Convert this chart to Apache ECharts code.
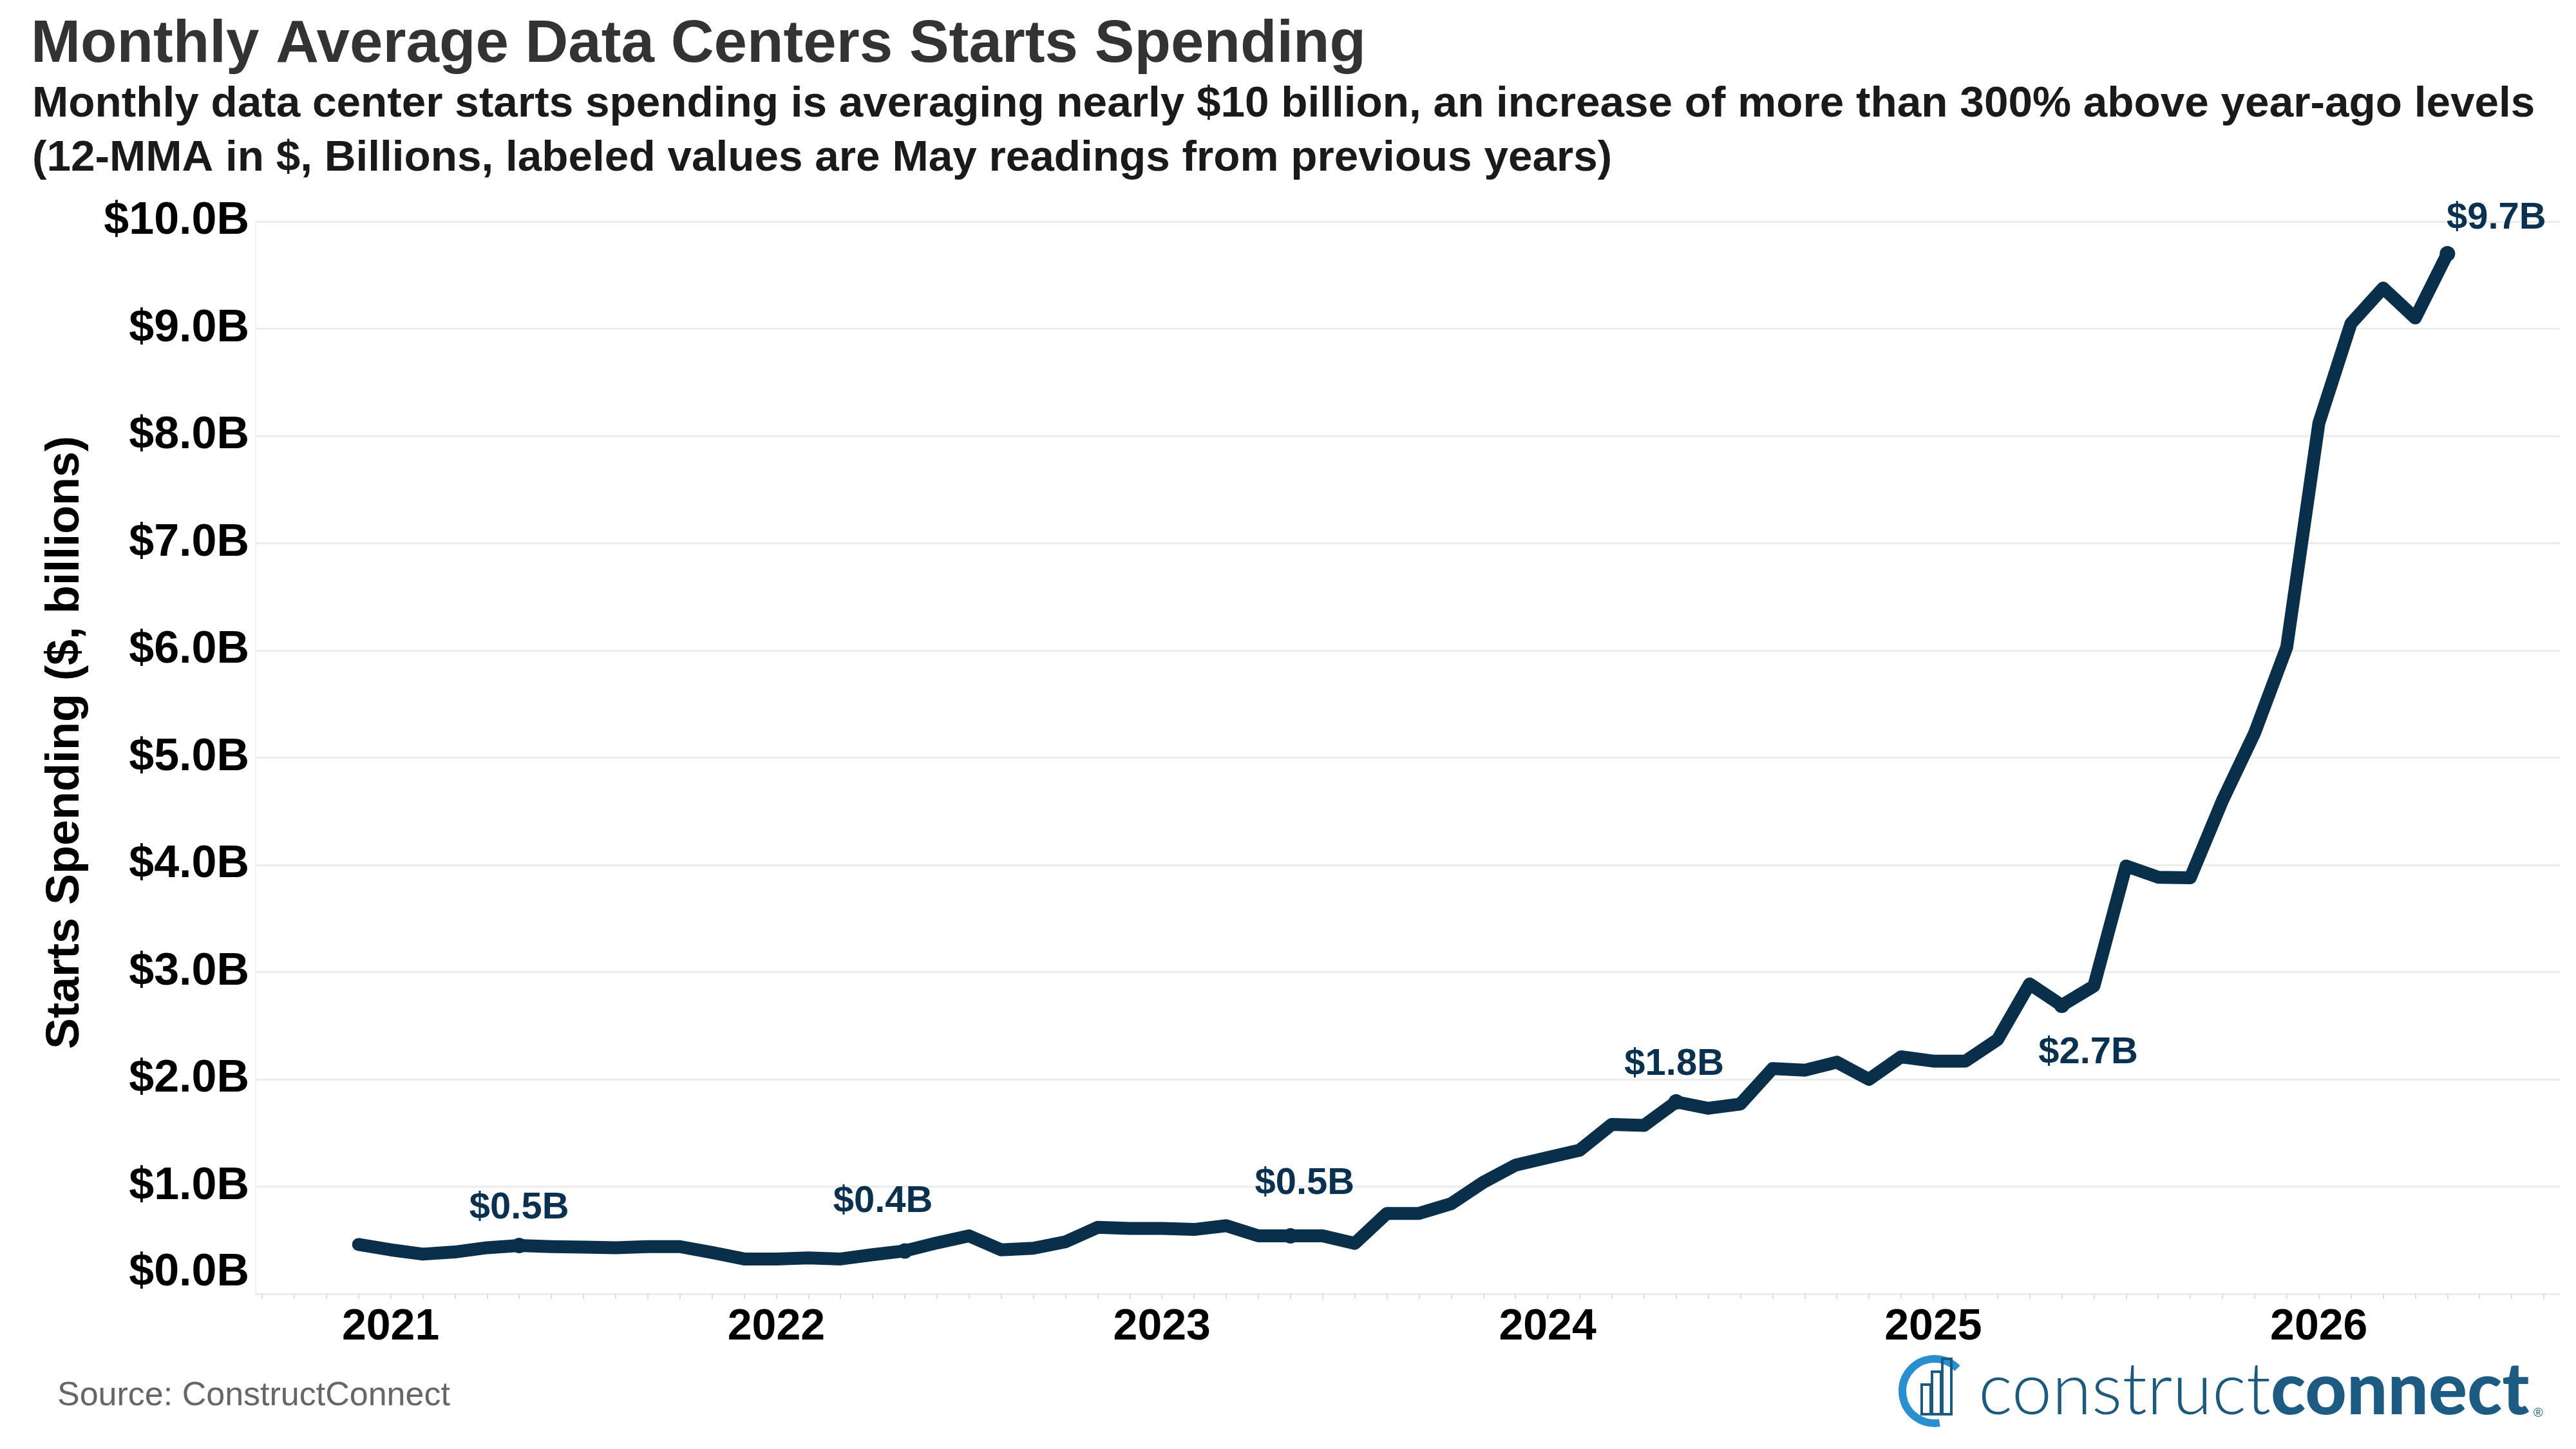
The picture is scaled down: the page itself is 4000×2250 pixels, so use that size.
<!DOCTYPE html>
<html>
<head>
<meta charset="utf-8">
<title>Monthly Average Data Centers Starts Spending</title>
<script src="https://cdn.jsdelivr.net/npm/echarts@6/dist/echarts.min.js"></script>
<style>
  html, body { margin: 0; padding: 0; background: #fff; }
  #chart { width: 4000px; height: 2250px; }
</style>
</head>
<body>
<div id="chart"></div>
<script>
// 12-month moving average of data center starts, $ billions
const months = [
  '2020-12',
  '2021-01', '2021-02', '2021-03', '2021-04', '2021-05', '2021-06', '2021-07', '2021-08', '2021-09', '2021-10', '2021-11', '2021-12',
  '2022-01', '2022-02', '2022-03', '2022-04', '2022-05', '2022-06', '2022-07', '2022-08', '2022-09', '2022-10', '2022-11', '2022-12',
  '2023-01', '2023-02', '2023-03', '2023-04', '2023-05', '2023-06', '2023-07', '2023-08', '2023-09', '2023-10', '2023-11', '2023-12',
  '2024-01', '2024-02', '2024-03', '2024-04', '2024-05', '2024-06', '2024-07', '2024-08', '2024-09', '2024-10', '2024-11', '2024-12',
  '2025-01', '2025-02', '2025-03', '2025-04', '2025-05', '2025-06', '2025-07', '2025-08', '2025-09', '2025-10', '2025-11', '2025-12',
  '2026-01', '2026-02', '2026-03', '2026-04', '2026-05'
]
const spending = [
  0.46,
  0.41, 0.37, 0.39, 0.43, 0.45, 0.44, 0.435, 0.43, 0.44, 0.44, 0.385, 0.325,
  0.325, 0.335, 0.325, 0.365, 0.40, 0.475, 0.54, 0.41, 0.425, 0.485, 0.62, 0.61,
  0.61, 0.60, 0.635, 0.54, 0.54, 0.54, 0.47, 0.75, 0.75, 0.84, 1.04, 1.20,
  1.27, 1.34, 1.58, 1.57, 1.79, 1.73, 1.77, 2.10, 2.085, 2.16, 2.00, 2.21,
  2.17, 2.17, 2.37, 2.89, 2.69, 2.87, 3.99, 3.885, 3.88, 4.60, 5.23, 6.03,
  8.12, 9.05, 9.38, 9.10, 9.70
]
const yearLabels = ['2021', '2022', '2023', '2024', '2025', '2026']
const yTicks = [0, 1, 2, 3, 4, 5, 6, 7, 8, 9, 10]
const calloutMonths = ['2021-05', '2022-05', '2023-05', '2024-05', '2025-05', '2026-05']
const calloutLabels = ['$0.5B', '$0.4B', '$0.5B', '$1.8B', '$2.7B', '$9.7B']

// label nudges (px) relative to each callout point
const calloutOffsets = [[0, -58], [-34, -76], [22, -81], [-3, -58], [41, 74], [76, -55]]

const NAVY = '#0a2f4a'
const FONT = '"Liberation Sans", Arial, sans-serif'

// month index counted from Jan 2021
const monthIndex = (ym) => {
  const [y, m] = ym.split('-').map(Number)
  return (y - 2021) * 12 + (m - 1)
}

const lineData = months.map((m, i) => [monthIndex(m), spending[i]])
const calloutData = calloutMonths.map((m, i) => ({
  value: [monthIndex(m), spending[months.indexOf(m)]],
  label: { formatter: calloutLabels[i], offset: calloutOffsets[i] }
}))
// year labels sit just under the x baseline (value 0) at each January
const yearData = yearLabels.map((y) => ({
  value: [monthIndex(y + '-01'), yTicks[0]],
  label: { formatter: y, offset: [0, 52] }
}))
const monthTicks = []
for (let v = -4; v <= 67; v++) monthTicks.push(v)

const chart = echarts.init(document.getElementById('chart'), null, { renderer: 'canvas' })

chart.setOption({
  backgroundColor: '#ffffff',
  animation: false,
  textStyle: { fontFamily: FONT },
  title: [
    {
      text: 'Monthly Average Data Centers Starts Spending',
      left: 48, top: 24, padding: 0,
      textStyle: { fontSize: 92.5, fontWeight: 'bold', color: '#333333', fontFamily: FONT }
    },
    {
      text: 'Monthly data center starts spending is averaging nearly $10 billion, an increase of more than 300% above year-ago levels\n(12-MMA in $, Billions, labeled values are May readings from previous years)',
      left: 50, top: 120, padding: 0,
      textStyle: { fontSize: 67.5, fontWeight: 'bold', color: '#1a1a1a', lineHeight: 84, fontFamily: FONT }
    }
  ],
  grid: { left: 397, right: 25, top: 344, bottom: 241, outerBoundsMode: 'none' },
  xAxis: {
    type: 'value',
    min: -4.2,
    max: 67.5,
    axisLine: { show: false },
    splitLine: { show: false },
    axisLabel: { show: false },
    axisTick: { show: true, customValues: monthTicks, length: 8, lineStyle: { color: '#dedede', width: 2 } }
  },
  yAxis: {
    type: 'value',
    min: yTicks[0],
    max: yTicks[yTicks.length - 1],
    interval: 1,
    axisLine: { show: true, onZero: false, lineStyle: { color: '#f2f2f2', width: 2 } },
    axisTick: { show: false },
    splitLine: { lineStyle: { color: '#ececec', width: 3 } },
    axisLabel: {
      fontSize: 70, fontWeight: 'bold', color: '#000', margin: 10, fontFamily: FONT,
      formatter: (v) => (v === 0 ? '{z|$0.0B}' : '$' + v.toFixed(1) + 'B'),
      rich: { z: { padding: [0, 0, 64, 0], fontSize: 70, fontWeight: 'bold', color: '#000', fontFamily: FONT } }
    }
  },
  series: [
    {
      type: 'line',
      data: lineData,
      symbol: 'none',
      color: NAVY,
      lineStyle: { width: 20, color: NAVY, cap: 'round', join: 'round' },
      z: 3
    },
    {
      type: 'scatter',
      data: calloutData,
      symbol: 'circle',
      symbolSize: 24,
      itemStyle: { color: NAVY, opacity: 1 },
      label: {
        show: true,
        position: 'inside',
        fontSize: 58, fontWeight: 'bold', color: '#0a3150', fontFamily: FONT,
        textBorderWidth: 0, textBorderColor: 'transparent'
      },
      z: 4
    },
    {
      // year tick labels
      type: 'scatter',
      data: yearData,
      symbol: 'circle',
      symbolSize: 1,
      silent: true,
      clip: false,
      itemStyle: { color: 'rgba(0,0,0,0)', opacity: 1 },
      label: {
        show: true,
        position: 'inside',
        fontSize: 68, fontWeight: 'bold', color: '#000', fontFamily: FONT,
        textBorderWidth: 0, textBorderColor: 'transparent'
      },
      z: 2
    }
  ],
  graphic: [
    {
      type: 'text',
      x: 102, y: 1153,
      rotation: Math.PI / 2,
      style: {
        text: 'Starts Spending ($, billions)',
        font: 'bold 72px ' + FONT,
        fill: '#000',
        align: 'center',
        verticalAlign: 'middle'
      }
    },
    {
      type: 'text',
      x: 89, y: 2168,
      style: {
        text: 'Source: ConstructConnect',
        font: '52px ' + FONT,
        fill: '#666666',
        align: 'left',
        verticalAlign: 'middle'
      }
    },
    // logo: swoosh + bars + wordmark
    {
      type: 'group',
      children: [
        {
          type: 'arc',
          shape: { cx: 3004, cy: 2160, r: 50, startAngle: Math.PI * 0.45, endAngle: Math.PI * 1.75 },
          style: { stroke: '#2a8fcf', lineWidth: 12, fill: null }
        },
        { type: 'rect', shape: { x: 2984, y: 2150, width: 14, height: 46 }, style: { stroke: '#1d5a7e', lineWidth: 4, fill: null } },
        { type: 'rect', shape: { x: 3000, y: 2130, width: 14, height: 66 }, style: { stroke: '#1d5a7e', lineWidth: 4, fill: null } },
        { type: 'rect', shape: { x: 3016, y: 2110, width: 14, height: 86 }, style: { stroke: '#1d5a7e', lineWidth: 4, fill: null } },
        {
          type: 'text',
          x: 3072, y: 2160,
          style: {
            text: '{a|construct}{b|connect}',
            verticalAlign: 'middle',
            rich: {
              a: { fontFamily: 'Lato, "Open Sans", sans-serif', fontWeight: 300, fontSize: 112, fill: '#1d5a7e' },
              b: { fontFamily: 'Lato, "Open Sans", sans-serif', fontWeight: 900, fontSize: 112, fill: '#1e5b82' }
            }
          }
        },
        {
          type: 'text',
          x: 3934, y: 2194,
          style: { text: '®', font: '20px ' + FONT, fill: '#1e5b82', verticalAlign: 'middle' }
        }
      ]
    }
  ]
})

window.addEventListener('resize', () => chart.resize())
</script>
</body>
</html>
